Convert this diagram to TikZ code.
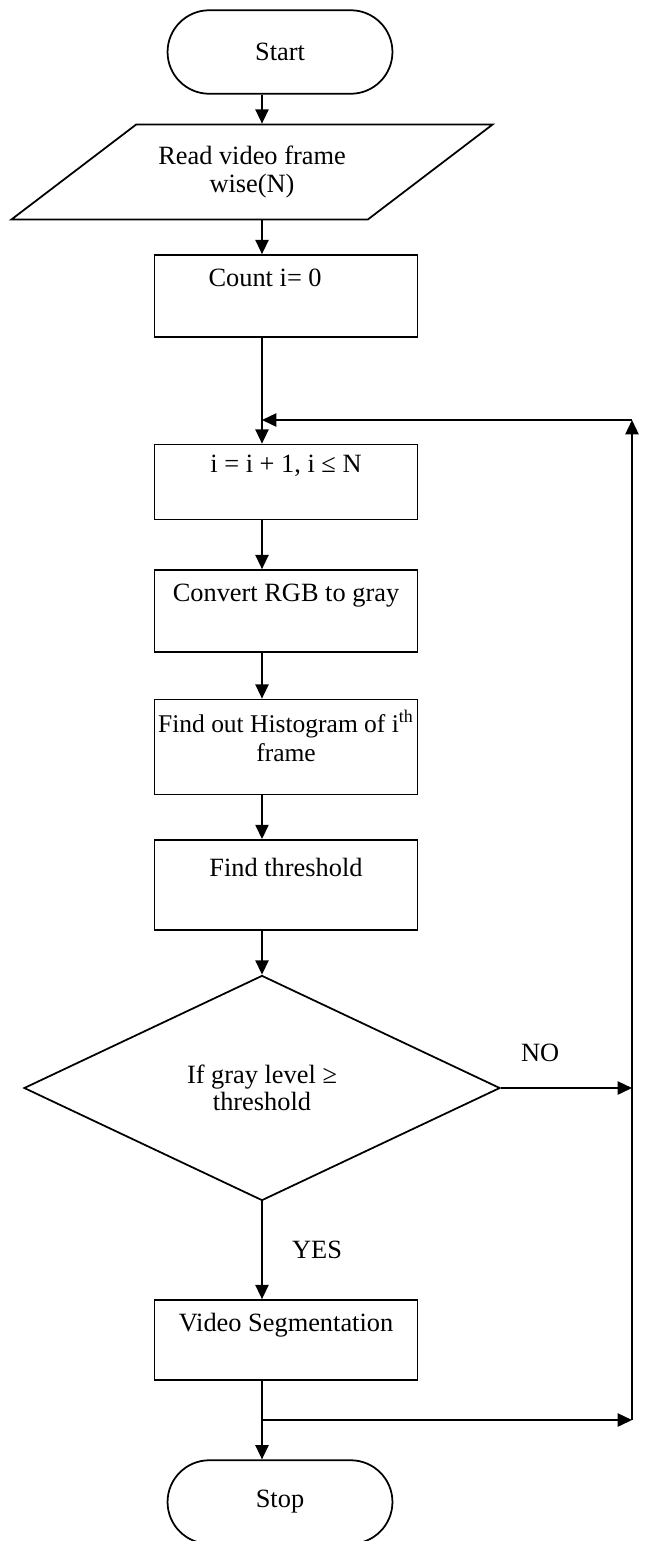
\documentclass[tikz,border=0pt]{standalone}
\usepackage{fontspec}
\setmainfont{Liberation Serif}
\usetikzlibrary{shapes.geometric, shapes.misc, arrows.meta, positioning}

\begin{document}
\begin{tikzpicture}[x=0.455pt, y=-0.455pt, line width=0.8pt,
  every node/.style={font=\fontsize{12}{12.5}\selectfont},
  terminal/.style={draw, rounded rectangle, minimum width=109pt, minimum height=38pt},
  io/.style={draw, trapezium, trapezium left angle=28, trapezium right angle=152,
    trapezium stretches body, minimum width=218.9pt, minimum height=43.2pt, align=center},
  process/.style={draw, rectangle, minimum width=119.7pt, align=center},
  decision/.style={draw, diamond, minimum width=216.6pt, minimum height=102.4pt,
    inner sep=0pt, align=center},
  arr/.style={-{Triangle[length=6.5pt, width=6pt]}}]
  \useasboundingbox (0,0) rectangle (652,1541);
  \clip (0,0) rectangle (652,1541);

  \coordinate (axis) at (262,0);
  \node[terminal] (start) at (280,52) {Start};
  \node[io] (read) at (252,172) {Read video frame\\wise(N)};
  \node[process, minimum height=37.3pt] (count) at (286,296) {Count i= 0\hspace*{19pt}\\\strut};
  \node[process, minimum height=34.1pt] (inc) at (286,482) {i = i + 1, i ≤ N\\\strut};
  \node[process, minimum height=37.3pt] (gray) at (286,611) {Convert RGB to gray\\\strut};
  \node[process, minimum height=43.2pt, inner xsep=0pt, inner ysep=1pt,
    font=\fontsize{11.6}{13.6}\selectfont] (hist) at (286,747)
    {Find out Histogram of i\textsuperscript{th}\\frame\\[-7.7pt]\strut};
  \node[process, minimum height=41pt] (thresh) at (286,885) {Find threshold\\\strut};
  \node[decision] (check) at (262,1088) {If gray level ≥\\threshold};
  \node[process, minimum height=36.4pt] (seg) at (286,1340) {Video Segmentation\\\strut};
  \node[terminal] (stop) at (280,1502) {Stop};

  % loop back points
  \coordinate (loopin) at (262,420);
  \coordinate (back) at (632,420);
  \coordinate (nojoin) at (632,1088);
  \coordinate (exit) at (262,1420);
  \coordinate (exitR) at (632,1420);

  \draw[arr] (start.south -| axis) -- (read.north -| axis);
  \draw[arr] (read.south -| axis) -- (count.north -| axis);
  \draw[arr] (count.south -| axis) -- (inc.north -| axis);
  \draw[arr] (inc.south -| axis) -- (gray.north -| axis);
  \draw[arr] (gray.south -| axis) -- (hist.north -| axis);
  \draw[arr] (hist.south -| axis) -- (thresh.north -| axis);
  \draw[arr] (thresh.south -| axis) -- (check.north);
  \draw[arr] (check.south) -- node[midway, right, xshift=10pt] {YES} (seg.north -| axis);
  \draw[arr] (seg.south -| axis) -- (stop.north -| axis);
  \draw[arr] (check.east) -- node[pos=0.3, above, yshift=8pt] {NO} (nojoin);
  \draw[arr] (nojoin) -- (back);
  \draw[arr] (back) -- (loopin);
  \draw (exitR) -- (nojoin);
  \draw[arr] (exit) -- (exitR);
\end{tikzpicture}
\end{document}
